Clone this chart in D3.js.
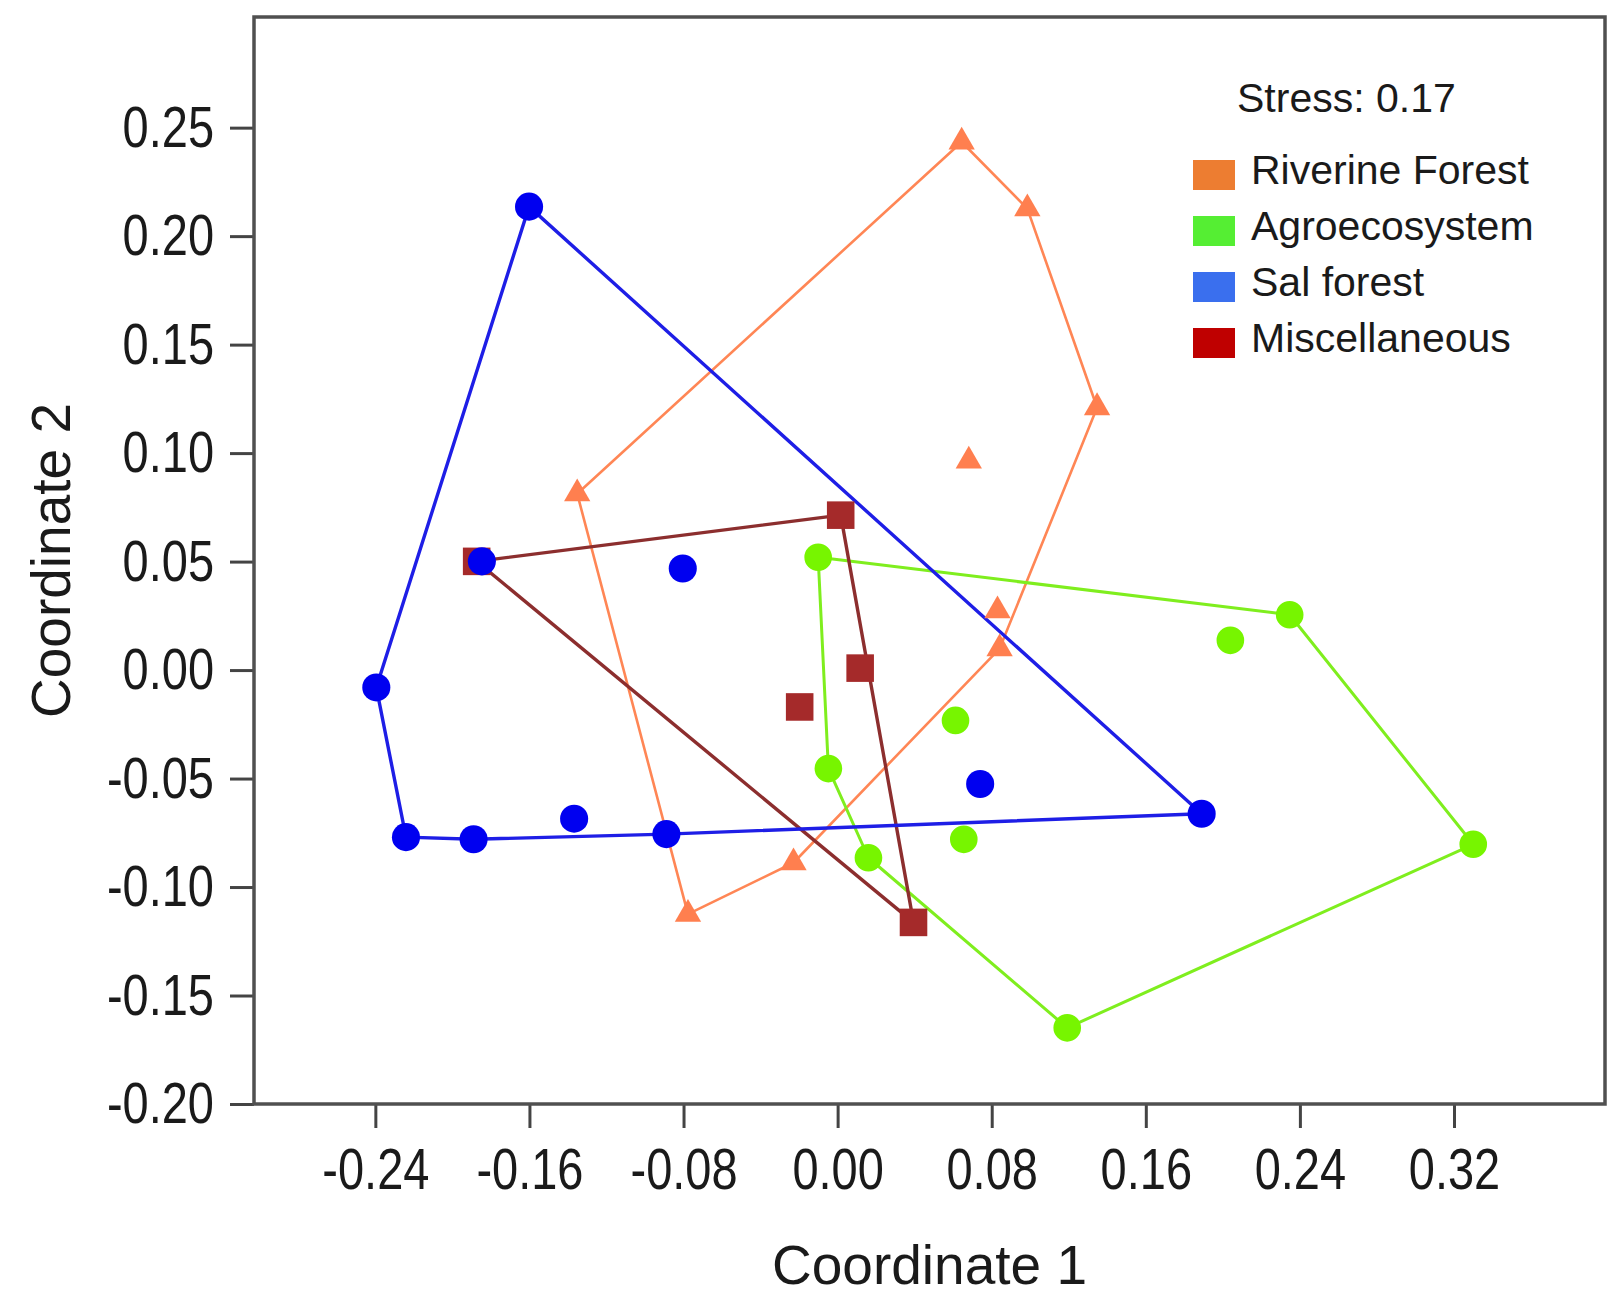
<!DOCTYPE html>
<html>
<head>
<meta charset="utf-8">
<script src="https://cdn.jsdelivr.net/npm/d3@7"></script>
<style>
  body { margin: 0; background: #fff; }
  /* the original tick labels are a tall, narrow face: stretch them a bit */
  .tick text { transform-box: fill-box; transform-origin: center; transform: scaleY(1.22); }
</style>
</head>
<body>
<div id="chart"></div>
<script>
// ================================================
// 1. DATA  (NMDS scores)
// ================================================
const groups = ["Riverine Forest", "Agroecosystem", "Sal forest", "Miscellaneous"];

// [coordinate 1, coordinate 2]
const riverine = [
  [0.0644, 0.2434], [0.0985, 0.2127], [0.1347, 0.1210], [0.0681, 0.0964],
  [0.0830, 0.0274], [0.0841, 0.0099], [-0.0229, -0.0888], [-0.0777, -0.1125],
  [-0.1352, 0.0813]
];
const agro = [
  [-0.0101, 0.0520], [0.2347, 0.0255], [0.3300, -0.0803], [0.1192, -0.1649],
  [0.0160, -0.0865], [-0.0048, -0.0454], [0.2039, 0.0137], [0.0612, -0.0232],
  [0.0655, -0.0780]
];
const sal = [
  [-0.1602, 0.2136], [0.1890, -0.0662], [-0.0889, -0.0756], [-0.1368, -0.0685],
  [-0.1890, -0.0780], [-0.2241, -0.0770], [-0.2395, -0.0080], [-0.1847, 0.0501],
  [-0.0804, 0.0468], [0.0740, -0.0525]
];
const misc = [
  [-0.1874, 0.0501], [0.0016, 0.0714], [0.0117, 0.0009], [-0.0197, -0.0170],
  [0.0394, -0.1163]
];

const xTicks = [-0.24, -0.16, -0.08, 0.00, 0.08, 0.16, 0.24, 0.32];
const yTicks = [0.25, 0.20, 0.15, 0.10, 0.05, 0.00, -0.05, -0.10, -0.15, -0.20];
const stressLabel = "Stress: 0.17";

// ================================================
// 2. STYLE
// ================================================
const series = [
  { name: "Riverine Forest", pts: riverine, shape: d3.symbolTriangle, size: 300, fill: "#FF7F4F", line: "#FF8655", lw: 2.6, swatch: "#ED7D31" },
  { name: "Agroecosystem",   pts: agro,     shape: d3.symbolCircle,   size: 600, fill: "#77F500", line: "#7FEE1E", lw: 3,   swatch: "#55EE33" },
  { name: "Miscellaneous",   pts: misc,     shape: d3.symbolSquare,   size: 760, fill: "#A52A2A", line: "#8C2E2E", lw: 3.4, swatch: "#BF0000" },
  { name: "Sal forest",      pts: sal,      shape: d3.symbolCircle,   size: 620, fill: "#0000F0", line: "#1E1EE6", lw: 3.4, swatch: "#3A6FEE" }
];
const swatchOf = Object.fromEntries(series.map(s => [s.name, s.swatch]));

const textFont = "'Liberation Sans', Arial, sans-serif";

// ================================================
// 3. SVG SETUP
// ================================================
const W = 1608, H = 1297;
const margin = { top: 17, right: 3, bottom: 193, left: 254 };
const width = W - margin.left - margin.right;
const height = H - margin.top - margin.bottom;

const svg = d3.select("#chart").append("svg")
  .attr("width", W)
  .attr("height", H);

const g = svg.append("g")
  .attr("transform", `translate(${margin.left},${margin.top})`);

const x = d3.scaleLinear().domain([-0.303, 0.3984]).range([0, width]);
const y = d3.scaleLinear().domain([-0.20, 0.301]).range([height, 0]);

// ================================================
// 4. AXES + FRAME
// ================================================
const fmt = d => d.toFixed(2);

const xAxis = g.append("g")
  .attr("transform", `translate(0,${height})`)
  .call(d3.axisBottom(x).tickValues(xTicks).tickFormat(fmt).tickSize(24).tickPadding(24).tickSizeOuter(0));

const yAxis = g.append("g")
  .call(d3.axisLeft(y).tickValues(yTicks).tickFormat(fmt).tickSize(24).tickPadding(16).tickSizeOuter(0));

[xAxis, yAxis].forEach(a => {
  a.select(".domain").remove();
  a.selectAll(".tick line").attr("stroke", "#444").attr("stroke-width", 3);
  a.selectAll(".tick text")
    .style("font-family", textFont)
    .style("font-size", "47px")
    .attr("fill", "#1a1a1a");
});

g.append("rect")
  .attr("width", width)
  .attr("height", height)
  .attr("fill", "none")
  .attr("stroke", "#505050")
  .attr("stroke-width", 3.5);

svg.append("text")
  .attr("x", margin.left + width / 2)
  .attr("y", 1284)
  .attr("text-anchor", "middle")
  .style("font-family", textFont)
  .style("font-size", "55px")
  .attr("fill", "#1a1a1a")
  .text("Coordinate 1");

svg.append("text")
  .attr("transform", `translate(70,${margin.top + height / 2}) rotate(-90)`)
  .attr("text-anchor", "middle")
  .style("font-family", textFont)
  .style("font-size", "55px")
  .attr("fill", "#1a1a1a")
  .text("Coordinate 2");

// ================================================
// 5. CONVEX HULLS + POINTS
// ================================================
series.forEach(s => {
  const hull = d3.polygonHull(s.pts.map(p => [x(p[0]), y(p[1])]));
  g.append("path")
    .attr("d", d3.line()(hull) + "Z")
    .attr("fill", "none")
    .attr("stroke", s.line)
    .attr("stroke-width", s.lw)
    .attr("stroke-linejoin", "round");
});

series.forEach(s => {
  g.append("g").selectAll("path")
    .data(s.pts)
    .join("path")
    .attr("transform", d => `translate(${x(d[0])},${y(d[1])})`)
    .attr("d", d3.symbol().type(s.shape).size(s.size))
    .attr("fill", s.fill);
});

// ================================================
// 6. LEGEND
// ================================================
svg.append("text")
  .attr("x", 1237)
  .attr("y", 112)
  .style("font-family", textFont)
  .style("font-size", "41px")
  .attr("fill", "#1a1a1a")
  .text(stressLabel);

const legend = svg.append("g").attr("transform", "translate(1193,160)");
const rows = legend.selectAll("g")
  .data(groups)
  .join("g")
  .attr("transform", (d, i) => `translate(0,${i * 56})`);

rows.append("rect")
  .attr("width", 42)
  .attr("height", 30)
  .attr("fill", d => swatchOf[d]);

rows.append("text")
  .attr("x", 58)
  .attr("y", 24)
  .style("font-family", textFont)
  .style("font-size", "41px")
  .attr("fill", "#1a1a1a")
  .text(d => d);
</script>
</body>
</html>
